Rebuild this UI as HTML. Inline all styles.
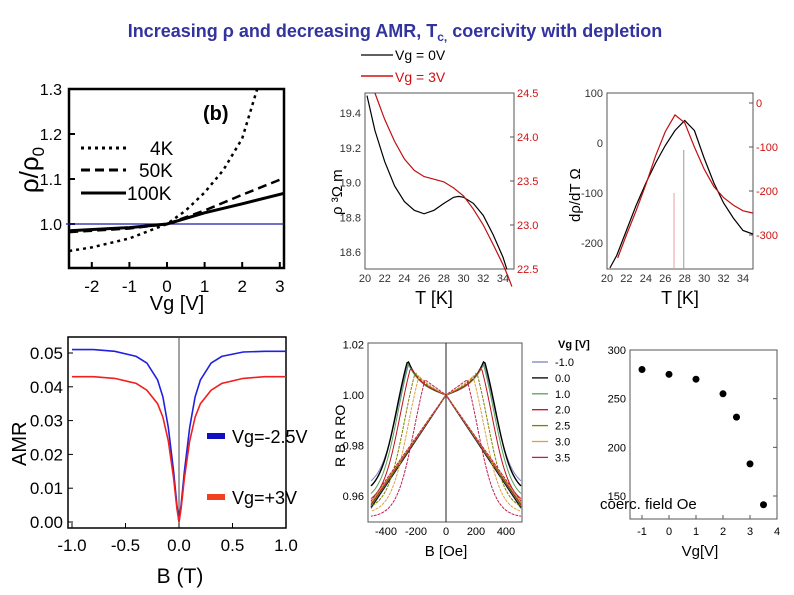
<!DOCTYPE html>
<html><head><meta charset="utf-8"><style>
body{margin:0;background:#fff}
svg{display:block;font-family:"Liberation Sans",sans-serif}
.n{font-family:"Liberation Sans Narrow","Liberation Sans",sans-serif}
</style></head><body>
<svg id="s" width="794" height="595" viewBox="0 0 794 595" xmlns="http://www.w3.org/2000/svg">
<rect width="794" height="595" fill="#fff"/>
<text x="395" y="37" text-anchor="middle" font-size="18" font-weight="bold" fill="#3333a0">Increasing ρ and decreasing AMR, T<tspan font-size="12" dy="4">c,</tspan><tspan dy="-4"> coercivity with depletion</tspan></text>
<g id="g1"></g>
<g id="g2"></g>
<g id="g3"></g>
<g id="g4"></g>
<g id="g5"></g>
<g id="g6"></g>
</svg>
<script>
// Panel 1 data
const p1x4=[-2.6,-2,-1,0,0.5,1,1.5,2,2.4];
const p1y4=[0.94,0.948,0.968,1.0,1.03,1.07,1.12,1.19,1.3];
const p1x50=[-2.6,-1,0,1,2,3.05];
const p1y50=[0.982,0.99,1.0,1.03,1.065,1.1];
const p1x100=[-2.6,-1,0,1,2,3.1];
const p1y100=[0.985,0.992,1.0,1.025,1.045,1.068];
const p1xt=[-2,-1,0,1,2,3];
const p1yt=[1.0,1.1,1.2,1.3];
// Panel 2 data
const p2xb=[20.2,21,22,23,24,25,26,27,28,29,29.5,30,31,32,33,34,34.4];
const p2yb=[19.5,19.3,19.12,18.98,18.89,18.84,18.82,18.84,18.88,18.915,18.92,18.915,18.88,18.81,18.7,18.57,18.5];
const p2xr=[21,22,23,24,25,26,27,28,29,30,31,32,33,34,34.5,34.9];
const p2yr=[24.5,24.2,23.95,23.75,23.62,23.55,23.52,23.49,23.42,23.33,23.18,23.0,22.78,22.55,22.42,22.3];
const p2xt=[20,22,24,26,28,30,32,34];
const p2ylt=[18.6,18.8,19.0,19.2,19.4];
const p2yrt=[22.5,23.0,23.5,24.0,24.5];
// Panel 3 data
const p3xb=[20.3,21,22,23,24,25,26,27,28,29,30,31,32,33,34,35];
const p3yb=[-250,-225,-175,-125,-80,-40,-5,25,45,25,-30,-80,-120,-150,-175,-182];
const p3xr=[21.1,22,23,24,25,26,27,28,29,30,31,32,33,34,35];
const p3yr=[-352,-300,-245,-185,-120,-65,-27,-45,-100,-150,-190,-215,-232,-245,-250];
const p3xt=[20,22,24,26,28,30,32,34];
const p3ylt=[-200,-100,0,100];
const p3yrt=[-300,-200,-100,0];
// Panel 4 data
const p4B=[-1,-0.8,-0.6,-0.4,-0.3,-0.2,-0.15,-0.1,-0.05,-0.02,0,0.02,0.05,0.1,0.15,0.2,0.3,0.4,0.6,0.8,1];
const p4blue=[0.051,0.051,0.0505,0.049,0.047,0.042,0.037,0.028,0.015,0.005,0,0.005,0.015,0.028,0.037,0.042,0.047,0.049,0.0503,0.0505,0.0505];
const p4red=[0.043,0.043,0.0425,0.041,0.039,0.035,0.031,0.024,0.013,0.004,0,0.004,0.013,0.024,0.031,0.035,0.039,0.041,0.0425,0.043,0.043];
const p4xt=[-1.0,-0.5,0.0,0.5,1.0];
const p4yt=[0.00,0.01,0.02,0.03,0.04,0.05];
// Panel 5 data
const p5vg=["-1.0","0.0","1.0","2.0","2.5","3.0","3.5"];
const p5peak=[250,255,250,235,205,180,140];
const p5height=[1.013,1.0138,1.012,1.011,1.009,1.0075,1.006];
const p5end=[0.966,0.964,0.961,0.959,0.956,0.954,0.952];
const p5colors=["#7a86c6","#000","#5aa05a","#c01020","#808000","#e0a040","#c02050"];
const p5xt=[-400,-200,0,200,400];
const p5yt=[0.96,0.98,1.00,1.02];
// Panel 6 data
const p6x=[-1,0,1,2,2.5,3,3.5];
const p6y=[280,275,270,255,231,183,141];
const p6xt=[-1,0,1,2,3,4];
const p6yt=[150,200,250,300];

const NS="http://www.w3.org/2000/svg";
function el(p,tag,a,txt){const e=document.createElementNS(NS,tag);for(const k in a)e.setAttribute(k,a[k]);if(txt!==undefined)e.textContent=txt;p.appendChild(e);return e;}
function lin(d0,d1,r0,r1){return v=>r0+(v-d0)*(r1-r0)/(d1-d0);}
function path(xs,ys,sx,sy){return xs.map((x,i)=>(i?'L':'M')+sx(x).toFixed(1)+','+sy(ys[i]).toFixed(1)).join('');}

// ---------- Panel 1
(function(){const g=document.getElementById('g1');
const sx=lin(0,1,167,204.6), sy=lin(1.0,1.1,224,179);
const f=el(g,'rect',{x:69,y:89,width:215,height:179,fill:'none',stroke:'#000','stroke-width':2.5});

p1xt.forEach(v=>{const t=el(g,'text',{x:sx(v),y:292,'text-anchor':'middle','font-size':17},v);el(g,'line',{x1:sx(v),x2:sx(v),y1:268,y2:262,stroke:'#000','stroke-width':2});});
p1yt.forEach(v=>{const t=el(g,'text',{x:62,y:sy(v)+6,'text-anchor':'end','font-size':16},v.toFixed(1));el(g,'line',{x1:69,x2:75,y1:sy(v),y2:sy(v),stroke:'#000','stroke-width':2});});
const hl=el(g,'line',{x1:66,x2:284,y1:sy(1),y2:sy(1),stroke:'#1a1aa0','stroke-width':1.3});
const c4=el(g,'path',{d:path(p1x4,p1y4,sx,sy),fill:'none',stroke:'#000','stroke-width':2.5,'stroke-dasharray':'3,4'});
const c50=el(g,'path',{d:path(p1x50,p1y50,sx,sy),fill:'none',stroke:'#000','stroke-width':2.5,'stroke-dasharray':'9,5'});
const c100=el(g,'path',{d:path(p1x100,p1y100,sx,sy),fill:'none',stroke:'#000','stroke-width':3});
[['3,4',148,'4K',150],['9,5',170,'50K',139],['',193,'100K',127]].forEach(a=>{el(g,'line',{x1:81,x2:126,y1:a[1],y2:a[1],stroke:'#000','stroke-width':3,'stroke-dasharray':a[0]});const t=el(g,'text',{x:a[3],y:a[1]+7,'font-size':19},a[2]);});
const b=el(g,'text',{x:203,y:120,'font-size':20,'font-weight':'bold'},'(b)');
const yl=el(g,'text',{x:0,y:0,'font-size':26,transform:'translate(38,170) rotate(-90)','text-anchor':'middle'},'ρ/ρ');
el(yl,'tspan',{'font-size':17,dy:6},'0');
const xl=el(g,'text',{x:177,y:310,'text-anchor':'middle','font-size':20},'Vg [V]');
})();

// ---------- Panel 2
(function(){const g=document.getElementById('g2');
const sx=lin(20,34,365,503), sy=lin(18.6,19.4,252,113), sr=lin(22.5,24.5,269,93);
el(g,'rect',{x:365,y:93,width:149,height:176,fill:'none',stroke:'#555','stroke-width':1});
el(g,'line',{x1:361,x2:393,y1:55,y2:55,stroke:'#000','stroke-width':1.3});
const l1=el(g,'text',{x:395,y:60,'font-size':14,class:'n'},'Vg = 0V');
el(g,'line',{x1:361,x2:393,y1:76,y2:76,stroke:'#d01010','stroke-width':1.5});
const l2=el(g,'text',{x:395,y:82,'font-size':14,fill:'#d01010',class:'n'},'Vg = 3V');
p2xt.forEach(v=>{const t=el(g,'text',{x:sx(v),y:282,'text-anchor':'middle','font-size':11,class:'n',fill:'#333'},v);});
p2ylt.forEach(v=>{const t=el(g,'text',{x:361,y:sy(v)+4,'text-anchor':'end','font-size':11,class:'n',fill:'#333'},v.toFixed(1));});
p2yrt.forEach(v=>{const t=el(g,'text',{x:517,y:sr(v)+4,'font-size':11,class:'n',fill:'#d01010'},v.toFixed(1));el(g,'line',{x1:514,x2:510,y1:sr(v),y2:sr(v),stroke:'#555'});});
const cb=el(g,'path',{d:path(p2xb,p2yb,sx,sy),fill:'none',stroke:'#000','stroke-width':1.2});
const cr=el(g,'path',{d:path(p2xr,p2yr,sx,sr),fill:'none',stroke:'#c01010','stroke-width':1.2});
const xl=el(g,'text',{x:434,y:304,'text-anchor':'middle','font-size':18,class:'n'},'T [K]');
const yl=el(g,'text',{x:0,y:0,'font-size':15,transform:'translate(342,215) rotate(-90)',class:'n'},'ρ ³Ω m');
})();

// ---------- Panel 3
(function(){const g=document.getElementById('g3');
const sx=lin(20,34,607,743), sy=lin(0,-200,143,243), sr=lin(0,-300,103,235);
el(g,'rect',{x:607,y:93,width:146,height:176,fill:'none',stroke:'#555','stroke-width':1});
p3xt.forEach(v=>{const t=el(g,'text',{x:sx(v),y:282,'text-anchor':'middle','font-size':11,class:'n',fill:'#333'},v);});
p3ylt.forEach(v=>{const t=el(g,'text',{x:603,y:sy(v)+4,'text-anchor':'end','font-size':11,class:'n',fill:'#333'},v);});
p3yrt.forEach(v=>{const t=el(g,'text',{x:756,y:sr(v)+4,'font-size':11,class:'n',fill:'#d01010'},v);el(g,'line',{x1:753,x2:749,y1:sr(v),y2:sr(v),stroke:'#555'});});
el(g,'line',{x1:sx(26.9),x2:sx(26.9),y1:193,y2:269,stroke:'#e8a0a0','stroke-width':1});
el(g,'line',{x1:sx(27.9),x2:sx(27.9),y1:150,y2:269,stroke:'#999','stroke-width':1});
const cb=el(g,'path',{d:path(p3xb,p3yb,sx,sy),fill:'none',stroke:'#000','stroke-width':1.2});
const cr=el(g,'path',{d:path(p3xr,p3yr,sx,sr),fill:'none',stroke:'#c01010','stroke-width':1.2});
const xl=el(g,'text',{x:680,y:304,'text-anchor':'middle','font-size':18,class:'n'},'T [K]');
const yl=el(g,'text',{x:0,y:0,'font-size':15,transform:'translate(580,222) rotate(-90)',class:'n'},'dρ/dT  Ω');
})();

// ---------- Panel 4
(function(){const g=document.getElementById('g4');
const sx=lin(-1,1,72,286), sy=lin(0,0.05,522,353);
el(g,'rect',{x:68,y:337,width:218,height:191,fill:'none',stroke:'#000','stroke-width':1.5});
el(g,'line',{x1:sx(0),x2:sx(0),y1:337,y2:528,stroke:'#444','stroke-width':1});
p4xt.forEach(v=>{const t=el(g,'text',{x:sx(v),y:551,'text-anchor':'middle','font-size':17},v.toFixed(1));el(g,'line',{x1:sx(v),x2:sx(v),y1:528,y2:523,stroke:'#000'});});
p4yt.forEach(v=>{const t=el(g,'text',{x:63,y:sy(v)+6,'text-anchor':'end','font-size':17},v.toFixed(2));el(g,'line',{x1:68,x2:73,y1:sy(v),y2:sy(v),stroke:'#000'});});
const cb=el(g,'path',{d:path(p4B,p4blue,sx,sy),fill:'none',stroke:'#2020e0','stroke-width':1.6});
const cr=el(g,'path',{d:path(p4B,p4red,sx,sy),fill:'none',stroke:'#f02020','stroke-width':1.6});
el(g,'rect',{x:207,y:433,width:18,height:6,fill:'#1010c0'});
const l1=el(g,'text',{x:232,y:443,'font-size':18},'Vg=-2.5V');
el(g,'rect',{x:207,y:494,width:18,height:6,fill:'#f04020'});
const l2=el(g,'text',{x:232,y:504,'font-size':18},'Vg=+3V');
const yl=el(g,'text',{x:0,y:0,'font-size':20,transform:'translate(26,466) rotate(-90)'},'AMR');
const xl=el(g,'text',{x:180,y:583,'text-anchor':'middle','font-size':21},'B (T)');
})();

// ---------- Panel 5
(function(){const g=document.getElementById('g5');
const sx=lin(0,400,446,506), sy=lin(1.0,0.96,395,496);
el(g,'rect',{x:368,y:343,width:154,height:179,fill:'none',stroke:'#555','stroke-width':1});
el(g,'line',{x1:sx(0),x2:sx(0),y1:343,y2:522,stroke:'#222','stroke-width':1});
p5xt.forEach(v=>{const t=el(g,'text',{x:sx(v),y:535,'text-anchor':'middle','font-size':11,class:'n'},v);});
p5yt.forEach(v=>{const t=el(g,'text',{x:364,y:sy(v)+4,'text-anchor':'end','font-size':11,class:'n'},v.toFixed(2));});
p5vg.forEach((lab,i)=>{
 const p=p5peak[i],h=p5height[i],e=p5end[i];
 const bx=[],by=[];
 const lo=0.955+i*0.0005;
 for(let b=-500;b<=500;b+=10){let r;
  if(b<=0){r=1+(b/500)*(1-lo);}
  else{
   const base=1+(b/p)*(0.006);
   const cap=h-0.004*Math.pow(Math.max(0,1-b/p),2);
   let up=Math.min(base+(h-1-0.006)*Math.pow(b/p,4),cap);
   if(b<=p){r=up;}
   else{const c=p+70, sc=60;
     const s=1/(1+Math.exp(-(b-c)/sc));
     const s0=1/(1+Math.exp(-(p-c)/sc));
     const s1=1/(1+Math.exp(-(500-c)/sc));
     r=h-(h-e)*(s-s0)/(s1-s0);}
  }
  bx.push(b);by.push(r);}
 const mx=bx.map(b=>-b);
 const c=el(g,'path',{d:path(bx,by,sx,sy)+path(mx,by,sx,sy),fill:'none',stroke:p5colors[i],'stroke-width':i==1?1.4:1,'stroke-dasharray':i>=4?'3,1':''});
 
 
 const ly=362+i*15.9;
 el(g,'line',{x1:532,x2:548,y1:ly,y2:ly,stroke:p5colors[i],'stroke-width':1.3});
 const t=el(g,'text',{x:555,y:ly+4,'font-size':11,class:'n'},lab);
 
 
});
const lt=el(g,'text',{x:558,y:348,'font-size':11,'font-weight':'bold',class:'n'},'Vg [V]');
const xl=el(g,'text',{x:446,y:556,'text-anchor':'middle','font-size':15,class:'n'},'B [Oe]');
const yl=el(g,'text',{x:0,y:0,'font-size':14,transform:'translate(345,467) rotate(-90)',class:'n'},'R B R RO');
})();

// ---------- Panel 6
(function(){const g=document.getElementById('g6');
const sx=lin(-1,4,642,777), sy=lin(150,300,496,350);
el(g,'rect',{x:630,y:350,width:147,height:169,fill:'none',stroke:'#555','stroke-width':1});
p6xt.forEach(v=>{const t=el(g,'text',{x:sx(v),y:535,'text-anchor':'middle','font-size':11,class:'n'},v);el(g,'line',{x1:sx(v),x2:sx(v),y1:519,y2:515,stroke:'#555'});});
p6yt.forEach(v=>{const t=el(g,'text',{x:626,y:sy(v)+4,'text-anchor':'end','font-size':11,class:'n'},v);el(g,'line',{x1:777,x2:773,y1:sy(v),y2:sy(v),stroke:'#555'});});
p6x.forEach((x,i)=>{const c=el(g,'circle',{cx:sx(x),cy:sy(p6y[i]),r:3.5,fill:'#000'});});
const yl=el(g,'text',{x:600,y:509,'font-size':15,class:'n'},'coerc. field Oe');
const xl=el(g,'text',{x:700,y:556,'text-anchor':'middle','font-size':15,class:'n'},'Vg[V]');
})();
</script>
</body></html>
